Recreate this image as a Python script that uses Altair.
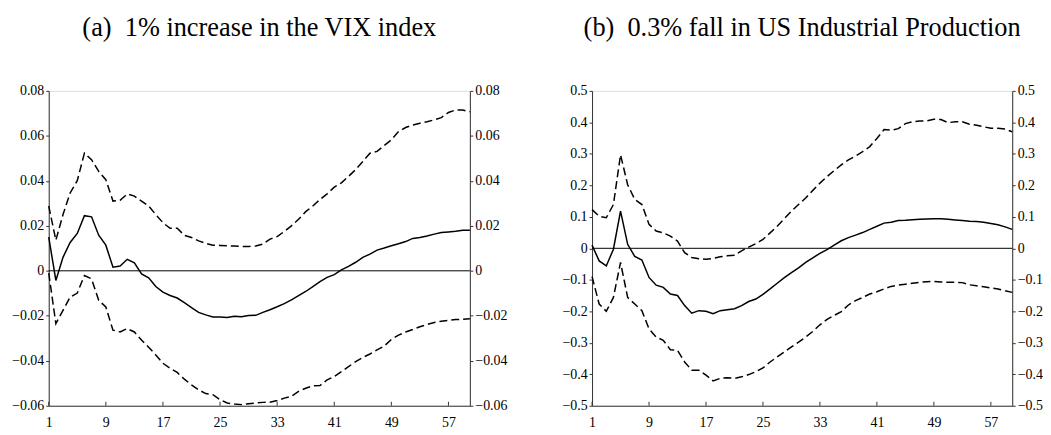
import altair as alt
import pandas as pd

FONT = "Liberation Serif"

periods = list(range(1, 61))
x_ticks = [1, 9, 17, 25, 33, 41, 49, 57]

a_title = "(a)\u00a0 1% increase in the VIX index"
b_title = "(b)\u00a0 0.3% fall in US Industrial Production"

a_y_ticks = [-0.06, -0.04, -0.02, 0, 0.02, 0.04, 0.06, 0.08]
b_y_ticks = [-0.5, -0.4, -0.3, -0.2, -0.1, 0, 0.1, 0.2, 0.3, 0.4, 0.5]

a_median = [0.015, -0.0043, 0.006, 0.0126, 0.0166, 0.0245, 0.024, 0.0158, 0.0114, 0.0016,
            0.0021, 0.0051, 0.0035, -0.0014, -0.0031, -0.007, -0.0095, -0.011, -0.0121, -0.0142,
            -0.0164, -0.0185, -0.0196, -0.0205, -0.0205, -0.0208, -0.0202, -0.0204, -0.0199, -0.0198,
            -0.0185, -0.0173, -0.016, -0.0146, -0.0129, -0.011, -0.0092, -0.007, -0.0048, -0.0029,
            -0.0017, 0.0004, 0.002, 0.0038, 0.006, 0.0074, 0.0092, 0.0101, 0.0111, 0.012,
            0.013, 0.0144, 0.0148, 0.0155, 0.0163, 0.017, 0.0173, 0.0176, 0.018, 0.018]
a_upper = [0.0288, 0.0136, 0.025, 0.0346, 0.0401, 0.0523, 0.0494, 0.0442, 0.0405, 0.031,
           0.0313, 0.0342, 0.0332, 0.031, 0.0288, 0.025, 0.0214, 0.0189, 0.0189, 0.0158,
           0.0148, 0.0133, 0.0122, 0.0114, 0.0113, 0.0111, 0.011, 0.0108, 0.0108, 0.011,
           0.0119, 0.0141, 0.0152, 0.0175, 0.02, 0.0229, 0.0263, 0.0288, 0.0317, 0.0342,
           0.0372, 0.0391, 0.042, 0.045, 0.0486, 0.0523, 0.0531, 0.0557, 0.0582, 0.0619,
           0.0637, 0.0648, 0.0656, 0.0663, 0.0671, 0.0681, 0.0704, 0.0715, 0.0715, 0.0707]
a_lower = [-0.001, -0.0235, -0.0176, -0.0117, -0.0099, -0.0021, -0.0036, -0.0131, -0.0161, -0.0264,
           -0.0272, -0.0257, -0.0272, -0.0308, -0.034, -0.0374, -0.0411, -0.0433, -0.0452, -0.0482,
           -0.0507, -0.0529, -0.0546, -0.0551, -0.0573, -0.0588, -0.0592, -0.0595, -0.0591, -0.0588,
           -0.0585, -0.0584, -0.0577, -0.0566, -0.0558, -0.0536, -0.0522, -0.0511, -0.051, -0.0485,
           -0.047, -0.0448, -0.0426, -0.0404, -0.0385, -0.037, -0.0352, -0.0335, -0.0305, -0.0286,
           -0.0272, -0.0261, -0.0249, -0.0239, -0.023, -0.0224, -0.022, -0.0217, -0.0216, -0.0213]

b_median = [0.01, -0.04, -0.056, -0.003, 0.118, 0.0126, -0.026, -0.037, -0.0925, -0.117,
            -0.124, -0.145, -0.15, -0.182, -0.206, -0.198, -0.2, -0.208, -0.198, -0.195,
            -0.192, -0.182, -0.169, -0.161, -0.146, -0.129, -0.111, -0.093, -0.077, -0.062,
            -0.045, -0.03, -0.016, -0.004, 0.01, 0.024, 0.034, 0.042, 0.05, 0.06,
            0.07, 0.08, 0.083, 0.088, 0.089, 0.091, 0.092, 0.093, 0.094, 0.094,
            0.092, 0.09, 0.088, 0.086, 0.085, 0.083, 0.079, 0.075, 0.068, 0.06]
b_upper = [0.123, 0.102, 0.097, 0.139, 0.297, 0.202, 0.155, 0.139, 0.076, 0.055,
           0.049, 0.039, 0.023, -0.014, -0.029, -0.033, -0.035, -0.032, -0.027, -0.024,
           -0.022, -0.008, 0.004, 0.015, 0.028, 0.049, 0.07, 0.094, 0.118, 0.139,
           0.16, 0.184, 0.207, 0.228, 0.247, 0.265, 0.281, 0.293, 0.307, 0.323,
           0.349, 0.377, 0.375, 0.38, 0.396, 0.402, 0.404, 0.405, 0.41, 0.409,
           0.399, 0.402, 0.402, 0.394, 0.391, 0.386, 0.381, 0.381, 0.379, 0.37]
b_lower = [-0.09, -0.177, -0.2, -0.156, -0.045, -0.156, -0.177, -0.198, -0.256, -0.282,
           -0.292, -0.322, -0.324, -0.361, -0.387, -0.387, -0.403, -0.421, -0.413, -0.411,
           -0.413, -0.408, -0.401, -0.392, -0.38, -0.361, -0.345, -0.329, -0.313, -0.298,
           -0.282, -0.264, -0.243, -0.226, -0.213, -0.201, -0.18, -0.166, -0.156, -0.145,
           -0.138, -0.129, -0.121, -0.117, -0.114, -0.111, -0.108, -0.106, -0.105, -0.107,
           -0.108, -0.108, -0.109, -0.116, -0.119, -0.122, -0.126, -0.129, -0.135, -0.14]

AXIS_COLOR = "#333333"


def panel(title, med, up, lo, yticks, fmt, width, height):
    df = pd.DataFrame({
        "t": periods * 3,
        "v": med + up + lo,
        "s": ["median"] * len(med) + ["upper"] * len(up) + ["lower"] * len(lo),
    })
    ydom = [yticks[0], yticks[-1]]
    xscale = alt.Scale(domain=[1, 60], nice=False, zero=False)
    yscale = alt.Scale(domain=ydom, nice=False, zero=False)
    x_axis = alt.Axis(values=x_ticks, tickSize=0, labelPadding=10, title=None, grid=False,
                      labelFontSize=14, labelFont=FONT, labelColor="black",
                      domainColor=AXIS_COLOR, labelFlush=False)
    label_expr = f"datum.value == 0 ? '0' : format(datum.value, '{fmt}')"
    common = dict(values=yticks, labelExpr=label_expr, tickSize=3, labelPadding=2,
                  grid=False, title=None,
                  labelFontSize=14, labelFont=FONT, labelColor="black",
                  domainColor=AXIS_COLOR, tickColor=AXIS_COLOR, labelFlush=False)
    left_axis = alt.Axis(orient="left", **common)
    right_axis = alt.Axis(orient="right", **common)

    bands = alt.Chart(df).transform_filter("datum.s != 'median'").mark_line(
        color="black", strokeWidth=1.5, strokeDash=[8, 4]
    ).encode(
        x=alt.X("t:Q", scale=xscale, axis=x_axis),
        y=alt.Y("v:Q", scale=yscale, axis=left_axis),
        detail="s:N",
    )
    median = alt.Chart(df).transform_filter("datum.s == 'median'").mark_line(
        color="black", strokeWidth=1.5
    ).encode(
        x=alt.X("t:Q", scale=xscale, axis=x_axis),
        y=alt.Y("v:Q", scale=yscale, axis=None),
    )
    zero = alt.Chart(pd.DataFrame({"v": [0]})).mark_rule(color="black", strokeWidth=1).encode(
        y=alt.Y("v:Q", scale=yscale, axis=right_axis),
    )
    tick_df = pd.DataFrame({"t": x_ticks, "v": [ydom[0]] * len(x_ticks)})
    ticks = alt.Chart(tick_df).mark_rule(color=AXIS_COLOR, strokeWidth=1, y2Offset=-4).encode(
        x=alt.X("t:Q", scale=xscale, axis=x_axis),
        y=alt.Y("v:Q", scale=yscale, axis=None),
        y2=alt.Y2("v:Q"),
    )
    return alt.layer(bands, median, zero, ticks).resolve_axis(y="independent").properties(
        width=width, height=height,
        title=alt.TitleParams(title, font=FONT, fontSize=26.5, fontWeight="normal",
                              color="black", anchor="middle", offset=43),
    )


pa = panel(a_title, a_median, a_upper, a_lower, a_y_ticks, ".2f", 424, 317)
pb = panel(b_title, b_median, b_upper, b_lower, b_y_ticks, ".1f", 423, 317)

chart = alt.hconcat(pa, pb, spacing=54).properties(
    padding={"left": 3, "top": 5, "right": 0, "bottom": 0}
).configure_view(
    stroke=AXIS_COLOR, strokeWidth=1
).configure(background="white")

chart.save("out.html", embed_options={"renderer": "svg", "actions": False})
